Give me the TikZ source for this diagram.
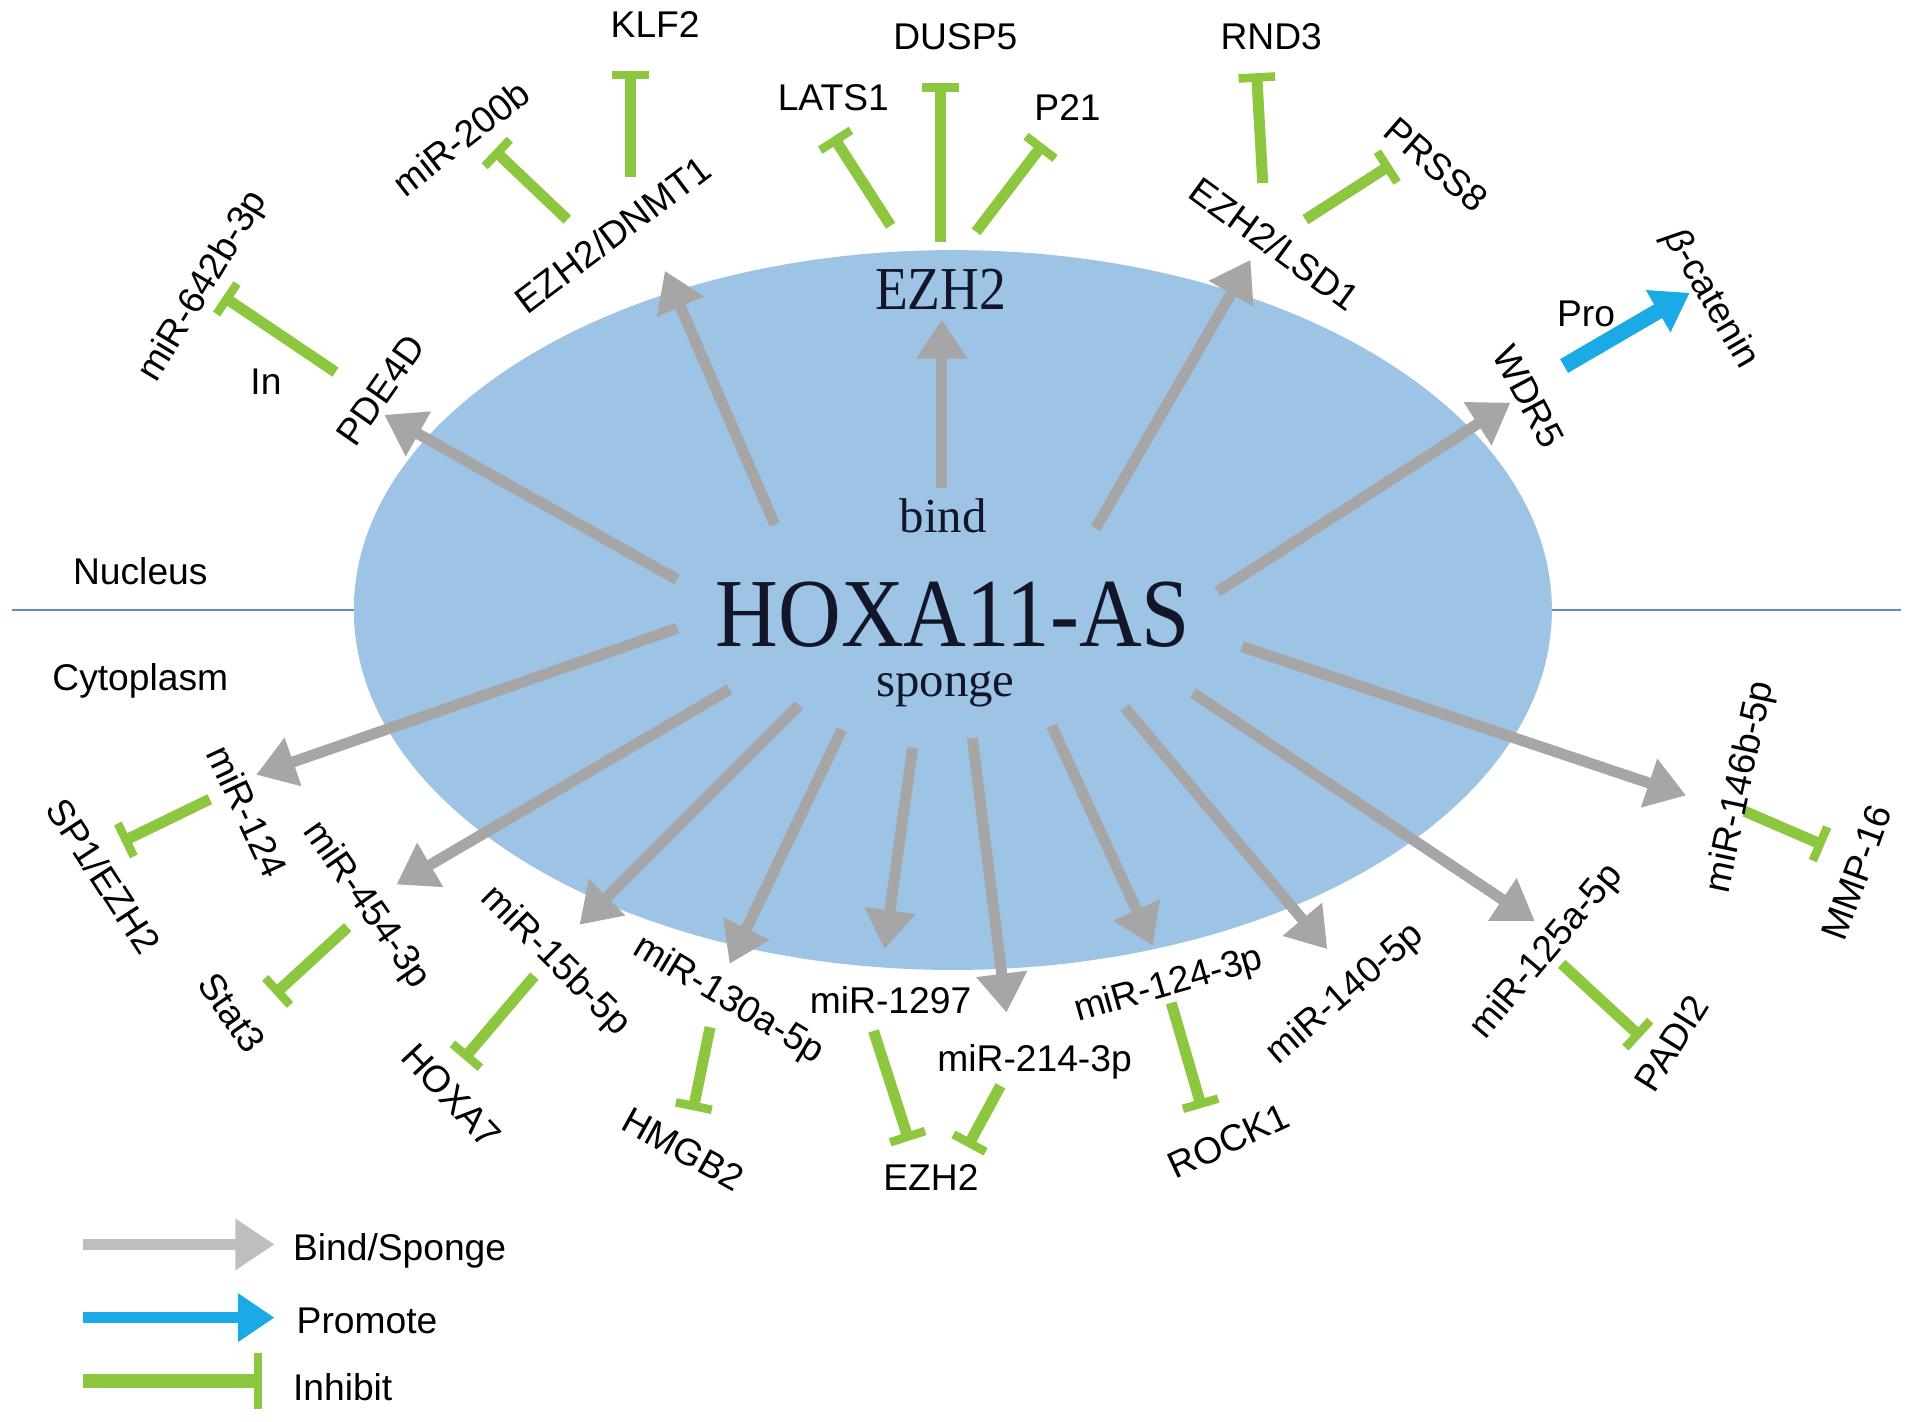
\documentclass[tikz,border=0pt]{standalone}
\usepackage{fontspec}
\setmainfont{Liberation Sans}
\newfontfamily\serifx{Liberation Serif}
\usetikzlibrary{arrows.meta}
\definecolor{ellfill}{RGB}{157,195,229}
\definecolor{linecol}{RGB}{91,141,210}
\definecolor{bindgray}{RGB}{166,166,166}
\definecolor{leggray}{RGB}{190,190,190}
\definecolor{inhgreen}{RGB}{141,198,63}
\definecolor{problue}{RGB}{27,170,230}
\definecolor{darktext}{RGB}{18,22,40}
\begin{document}
\begin{tikzpicture}[x=1pt,y=-1pt,
  lbl/.style={font=\fontsize{30.5}{30.5}\selectfont, inner sep=0pt},
  serifbig/.style={font=\serifx\fontsize{80}{80}\selectfont, inner sep=0pt, xscale=0.89, text=darktext},
  serifmid/.style={font=\serifx\fontsize{40}{40}\selectfont, inner sep=0pt, text=darktext},
  bindarrow/.style={draw=bindgray, line width=9pt, -{Triangle[length=32pt,width=40pt]}},
  inhib/.style={draw=inhgreen, line width=9pt, -{Bar[width=30pt,line width=7pt]}},
  promo/.style={draw=problue, line width=13pt, -{Triangle[length=30pt,width=38pt]}}]
\useasboundingbox (0,0) rectangle (1568,1165);
\fill[white] (0,0) rectangle (1568,1165);
% membrane line
\coordinate (ml) at (10,500);
\coordinate (mr) at (1558,500);
\draw[linecol, line width=1.3pt] (ml) -- (mr);
% nucleus ellipse
\fill[ellfill] (781,500) ellipse [x radius=491pt, y radius=295pt];
\node[lbl] (nuc) at (115,468) {Nucleus};
\node[lbl] (cyt) at (115,558) {Cytoplasm};
% central texts
\node[serifbig] (hox) at (781,504) {HOXA11-AS};
\node[serifmid] (bind) at (773,423) {bind};
\node[serifmid] (sponge) at (775,565) {sponge};
\node[font=\serifx\fontsize{50}{50}\selectfont, inner sep=0pt, xscale=0.88, text=darktext] (ezhc) at (771,237) {EZH2};
% gray bind/sponge arrows
\foreach \n/\sx/\sy/\tx/\ty in {
  pde/555/475/315/340, dnmt/635/430/545/222, ezh/772/400/772/262,
  lsd/898/433/1025/213, wdr/998/485/1238/330,
  m124/555/515/210/635, m454/598/565/325/725, m15b/655/578/475/758,
  m130/690/598/598/790, m1297/748/613/725/778, m214/797/605/825/830,
  m124b/862/595/945/775, m140/922/580/1088/778, m125/978/568/1258/755,
  m146/1018/530/1382/652}{
  \coordinate (s-\n) at (\sx,\sy);
  \coordinate (t-\n) at (\tx,\ty);
  \draw[bindarrow] (s-\n) -- (t-\n);
}
% green inhibit lines
\foreach \n/\sx/\sy/\tx/\ty in {
  i642/275/305/183/243, i200/465/180/405/123, iklf/517/145/517/58,
  ilats/730/185/683/112, idusp/771/198/771/68, ip21/800/190/855/118,
  irnd/1035/150/1030/60, iprss/1070/180/1140/135,
  isp1/172/655/100/690, istat/285/760/225/815, ihox/438/800/380/868,
  ihmg/582/842/568/910, i1297/716/845/745/935, i214/820/890/793/940,
  irock/960/822/985/908, ipadi/1280/790/1345/850, immp/1430/665/1495/693}{
  \coordinate (a-\n) at (\sx,\sy);
  \coordinate (b-\n) at (\tx,\ty);
  \draw[inhib] (a-\n) -- (b-\n);
}
% blue promote arrow
\coordinate (pw) at (1282,300);
\coordinate (pb) at (1385,240);
\draw[promo] (pw) -- (pb);
% labels
\node[lbl, rotate=59] (l642) at (167,235) {miR-642b-3p};
\node[lbl] (lin) at (218,313) {In};
\node[lbl, rotate=55] (lpde) at (312,320) {PDE4D};
\node[lbl, rotate=38] (l200) at (378,113) {miR-200b};
\node[lbl, rotate=37] (ldnmt) at (502,192) {EZH2/DNMT1};
\node[lbl] (lklf) at (537,20) {KLF2};
\node[lbl] (llats) at (683,80) {LATS1};
\node[lbl] (ldusp) at (783,30) {DUSP5};
\node[lbl] (lp21) at (875,88) {P21};
\node[lbl] (lrnd) at (1042,30) {RND3};
\node[lbl, rotate=-41] (lprss) at (1177,135) {PRSS8};
\node[lbl, rotate=-36] (llsd) at (1045,200) {EZH2/LSD1};
\node[lbl, rotate=-62] (lwdr) at (1253,325) {WDR5};
\node[lbl] (lpro) at (1300,257) {Pro};
\node[lbl, rotate=-60] (lbeta) at (1402,245) {\textit{β}-catenin};
\node[lbl, rotate=-65] (l124) at (203,665) {miR-124};
\node[lbl, rotate=-57] (lsp1) at (85,718) {SP1/EZH2};
\node[lbl, rotate=-55] (l454) at (300,742) {miR-454-3p};
\node[lbl, rotate=-55] (lstat) at (190,830) {Stat3};
\node[lbl, rotate=-45] (l15b) at (455,788) {miR-15b-5p};
\node[lbl, rotate=-47] (lhoxa) at (370,898) {HOXA7};
\node[lbl, rotate=-31] (l130) at (597,820) {miR-130a-5p};
\node[lbl, rotate=-29] (lhmg) at (560,942) {HMGB2};
\node[lbl] (l1297) at (730,820) {miR-1297};
\node[lbl] (l214) at (848,870) {miR-214-3p};
\node[lbl] (lezhb) at (763,965) {EZH2};
\node[lbl, rotate=16] (l124b) at (958,808) {miR-124-3p};
\node[lbl, rotate=25] (lrock) at (1007,935) {ROCK1};
\node[lbl, rotate=41] (l140) at (1103,815) {miR-140-5p};
\node[lbl, rotate=50] (l125) at (1268,780) {miR-125a-5p};
\node[lbl, rotate=58] (lpadi) at (1370,855) {PADI2};
\node[lbl, rotate=78] (l146) at (1427,645) {miR-146b-5p};
\node[lbl, rotate=70] (lmmp) at (1522,715) {MMP-16};
% legend
\coordinate (g1a) at (68,1020); \coordinate (g1b) at (225,1020);
\coordinate (g2a) at (68,1080); \coordinate (g2b) at (225,1080);
\coordinate (g3a) at (68,1132); \coordinate (g3b) at (215,1132);
\draw[bindarrow, draw=leggray, line width=9pt] (g1a) -- (g1b);
\draw[promo, line width=9pt] (g2a) -- (g2b);
\draw[draw=inhgreen, line width=11pt, -{Bar[width=46pt,line width=7pt]}] (g3a) -- (g3b);
\node[lbl, anchor=west] (leg1) at (240,1025) {Bind/Sponge};
\node[lbl, anchor=west] (leg2) at (243,1083) {Promote};
\node[lbl, anchor=west] (leg3) at (240,1137) {Inhibit};
\end{tikzpicture}
\end{document}
